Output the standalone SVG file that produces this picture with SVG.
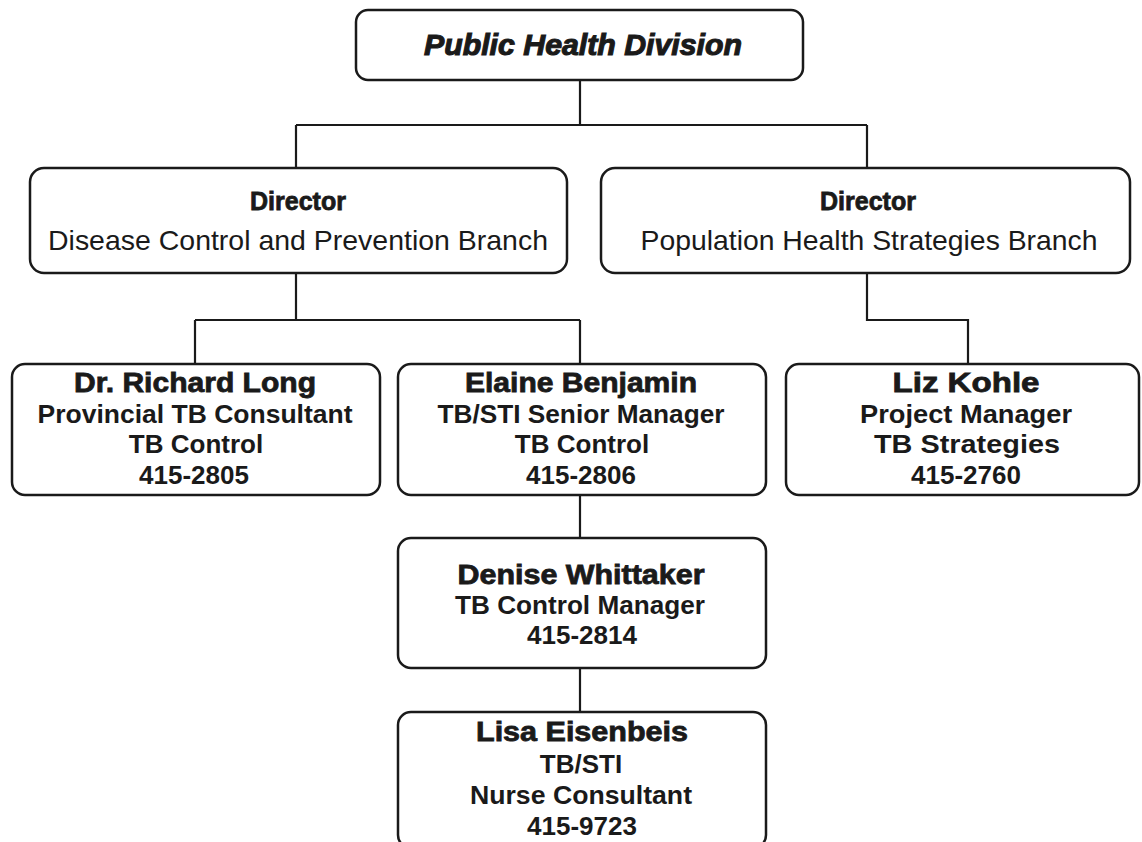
<svg xmlns="http://www.w3.org/2000/svg" width="1142" height="842" viewBox="0 0 1142 842">
<style>
.box{fill:#fff;stroke:#1a1a1a;stroke-width:2.5}
.ln{fill:none;stroke:#1a1a1a;stroke-width:2.2}
text{font-family:"Liberation Sans",Arial,sans-serif;fill:#1a1a1a;text-anchor:middle}
.title{font-size:29px;font-weight:bold;font-style:italic;stroke:#1a1a1a;stroke-width:1.1}
.hd{font-size:26px;font-weight:bold;stroke:#1a1a1a;stroke-width:0.8}
.reg{font-size:28px}
.nm{font-size:27px;font-weight:bold;stroke:#1a1a1a;stroke-width:0.8}
.sb{font-size:26px;font-weight:bold}
</style>
<rect width="1142" height="842" fill="#fff"/>
<g id="connectors">
<path class="ln" d="M580,80 V125 M296,125 H867 M296,125 V168 M867,125 V168"/>
<path class="ln" d="M296,273 V320 M195,320 H580 M195,320 V365 M580,320 V365"/>
<path class="ln" d="M867,273 V320 H968 V365"/>
<path class="ln" d="M580,495 V538 M580,668 V712"/>
</g>
<g id="phd">
<rect class="box" x="356" y="10" width="447" height="70" rx="12"/>
<text class="title" x="583" y="55" textLength="318" lengthAdjust="spacingAndGlyphs">Public Health Division</text>
</g>
<g id="dir1">
<rect class="box" x="30" y="168" width="537" height="105" rx="14"/>
<text class="hd" x="298" y="210" textLength="96" lengthAdjust="spacingAndGlyphs">Director</text>
<text class="reg" x="298" y="250" textLength="500" lengthAdjust="spacingAndGlyphs">Disease Control and Prevention Branch</text>
</g>
<g id="dir2">
<rect class="box" x="601" y="168" width="529" height="105" rx="14"/>
<text class="hd" x="868" y="210" textLength="96" lengthAdjust="spacingAndGlyphs">Director</text>
<text class="reg" x="869" y="250" textLength="457" lengthAdjust="spacingAndGlyphs">Population Health Strategies Branch</text>
</g>
<g id="long">
<rect class="box" x="12" y="364" width="368" height="131" rx="13"/>
<text class="nm" x="195" y="392" textLength="242" lengthAdjust="spacingAndGlyphs">Dr. Richard Long</text>
<text class="sb" x="195" y="423" textLength="315" lengthAdjust="spacingAndGlyphs">Provincial TB Consultant</text>
<text class="sb" x="196" y="453">TB Control</text>
<text class="sb" x="194" y="484">415-2805</text>
</g>
<g id="benjamin">
<rect class="box" x="398" y="364" width="368" height="131" rx="13"/>
<text class="nm" x="581" y="392" textLength="232" lengthAdjust="spacingAndGlyphs">Elaine Benjamin</text>
<text class="sb" x="581" y="423" textLength="287" lengthAdjust="spacingAndGlyphs">TB/STI Senior Manager</text>
<text class="sb" x="582" y="453">TB Control</text>
<text class="sb" x="581" y="484">415-2806</text>
</g>
<g id="kohle">
<rect class="box" x="786" y="364" width="353" height="131" rx="13"/>
<text class="nm" x="966" y="392" textLength="147" lengthAdjust="spacingAndGlyphs">Liz Kohle</text>
<text class="sb" x="966" y="423" textLength="212" lengthAdjust="spacingAndGlyphs">Project Manager</text>
<text class="sb" x="967" y="453" textLength="186" lengthAdjust="spacingAndGlyphs">TB Strategies</text>
<text class="sb" x="966" y="484">415-2760</text>
</g>
<g id="whittaker">
<rect class="box" x="398" y="538" width="368" height="130" rx="13"/>
<text class="nm" x="581" y="584" textLength="247" lengthAdjust="spacingAndGlyphs">Denise Whittaker</text>
<text class="sb" x="580" y="614" textLength="250" lengthAdjust="spacingAndGlyphs">TB Control Manager</text>
<text class="sb" x="582" y="644">415-2814</text>
</g>
<g id="eisenbeis">
<rect class="box" x="398" y="712" width="368" height="136" rx="13"/>
<text class="nm" x="582" y="741" textLength="212" lengthAdjust="spacingAndGlyphs">Lisa Eisenbeis</text>
<text class="sb" x="581" y="773">TB/STI</text>
<text class="sb" x="581" y="804" textLength="222" lengthAdjust="spacingAndGlyphs">Nurse Consultant</text>
<text class="sb" x="582" y="835">415-9723</text>
</g>
</svg>
